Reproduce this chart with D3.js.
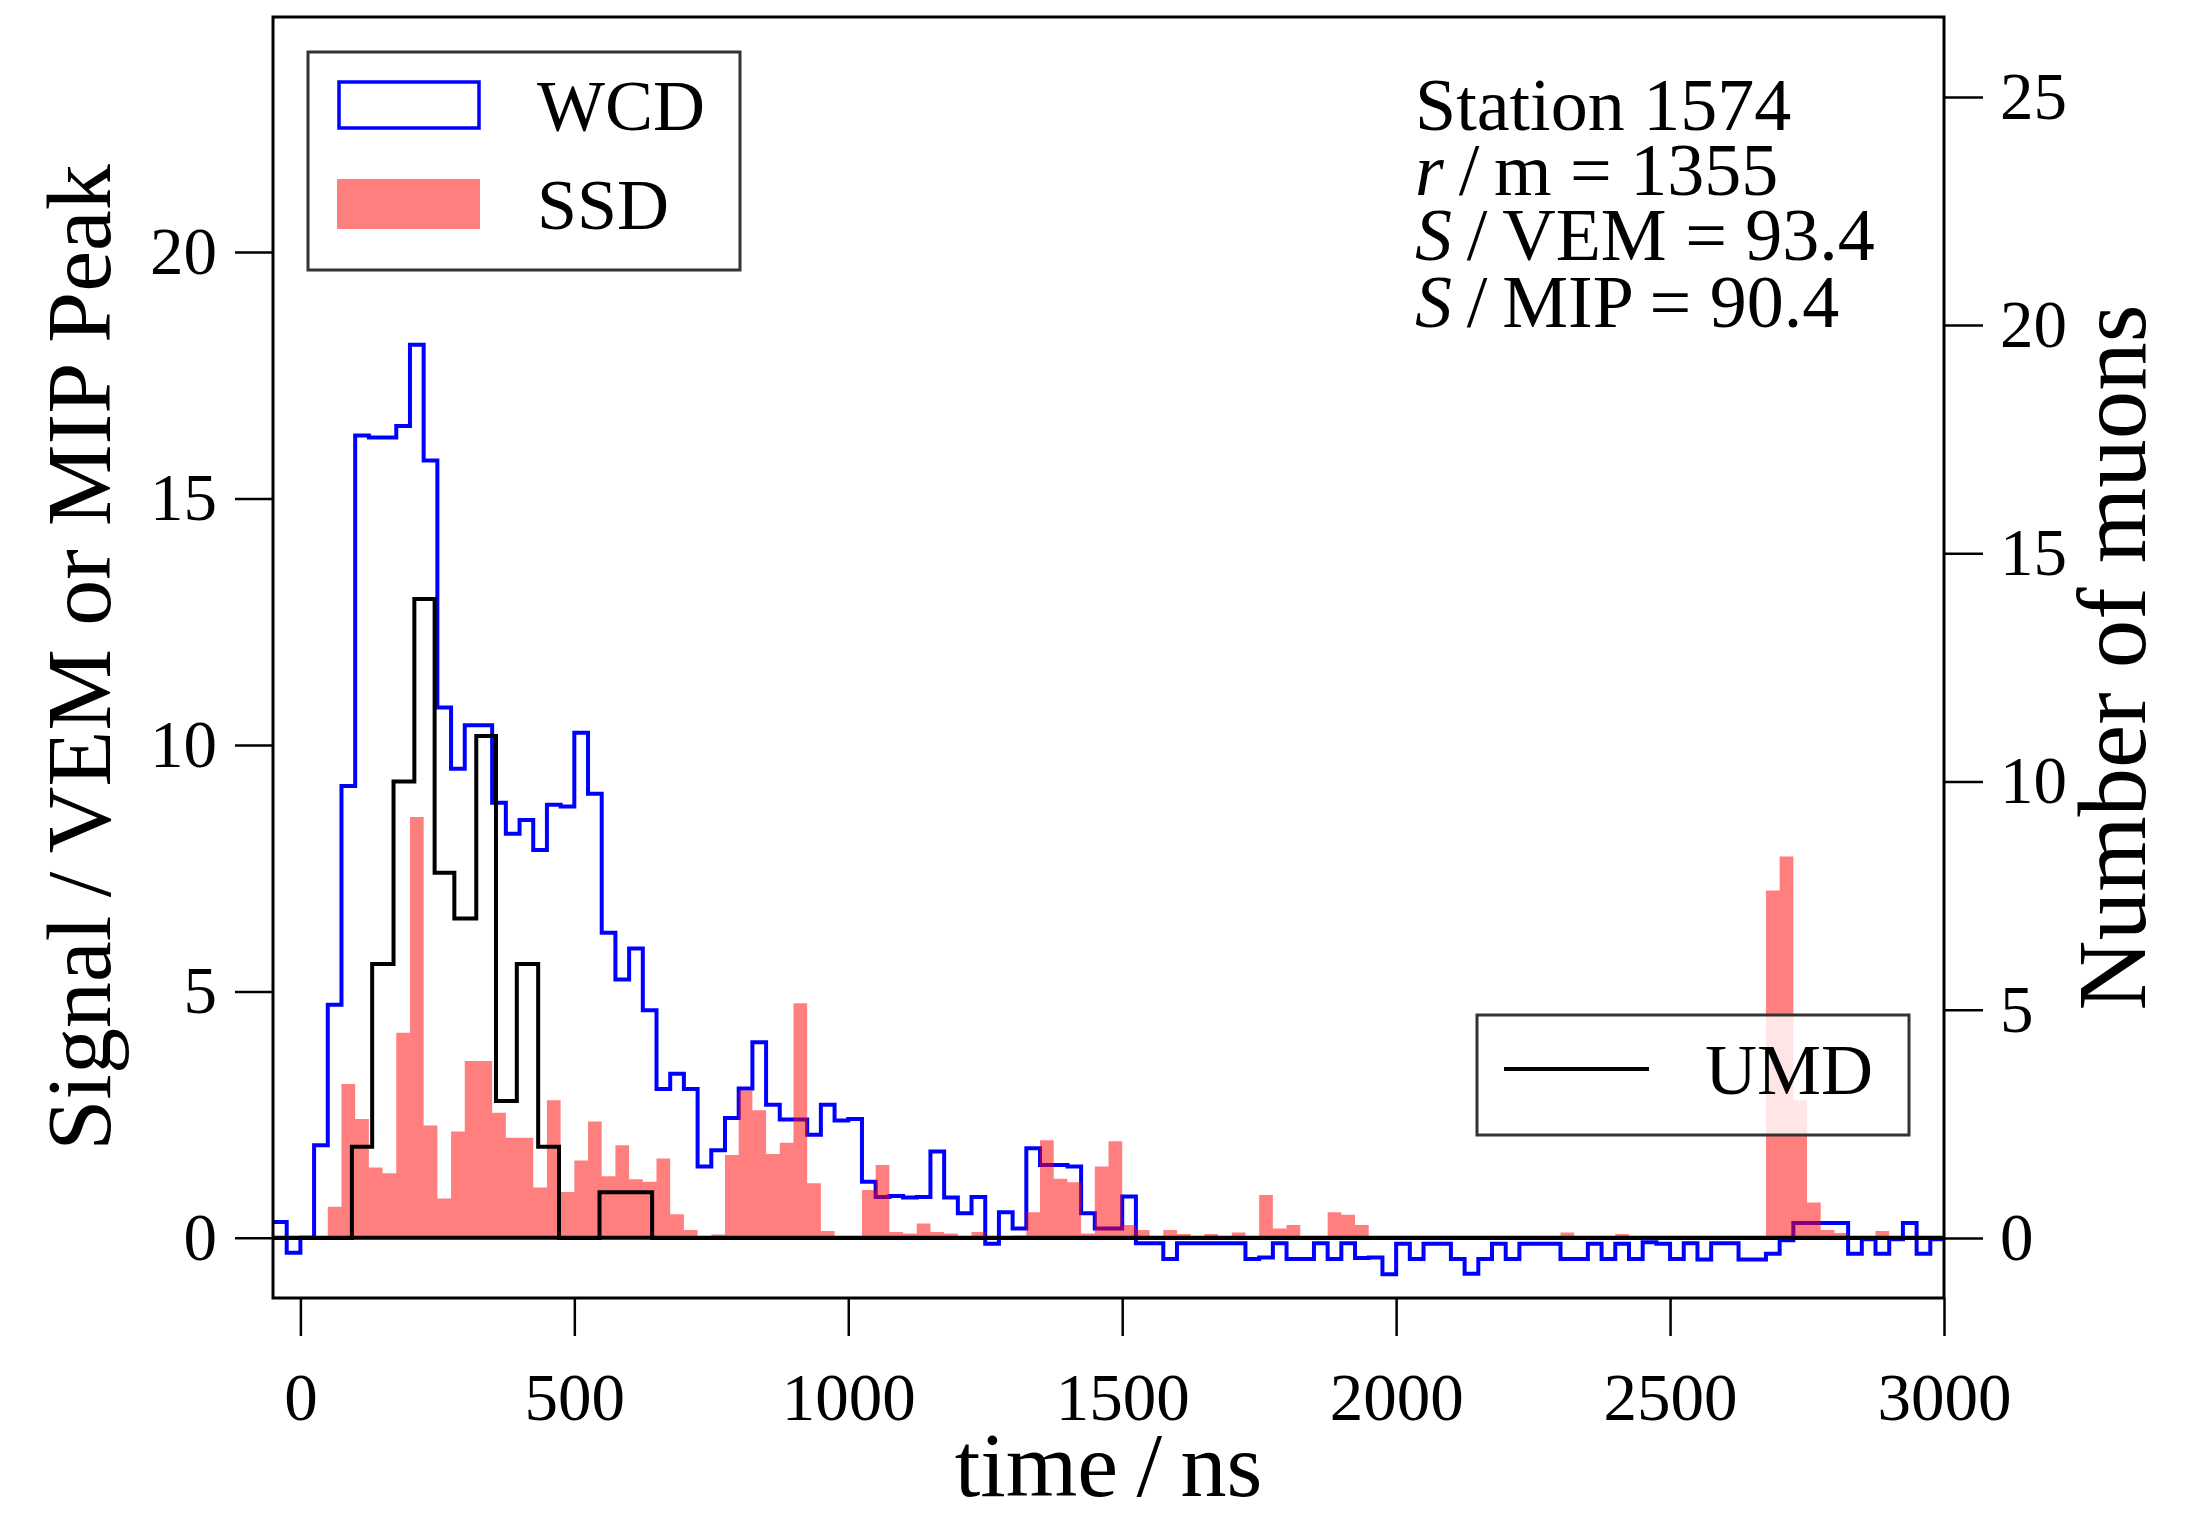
<!DOCTYPE html>
<html>
<head>
<meta charset="utf-8">
<script src="https://cdn.jsdelivr.net/npm/d3@7"></script>
<style>
    body { margin: 0; background: #fff; }
    svg { display: block; }
    text { font-family: "Liberation Serif", "DejaVu Serif", serif; fill: #000; }
</style>
</head>
<body>
<div id="chart"><svg></svg></div>
<script>
// Histogram bins: 25 ns wide, first bin starts at -50 ns
const binStart = -50;
const binWidth = 25;

// WCD signal (VEM) per bin
const wcdValues = [
    0.32, -0.30, 0.00, 1.88, 4.73, 9.17, 16.28, 16.24, 16.24, 16.47,
    18.12, 15.77, 10.76, 9.52, 10.40, 10.40, 8.83, 8.20, 8.48, 7.87,
    8.79, 8.75, 10.25, 9.01, 6.19, 5.24, 5.87, 4.62, 3.02, 3.33,
    3.02, 1.45, 1.78, 2.43, 3.03, 3.97, 2.70, 2.40, 2.40, 2.09,
    2.70, 2.38, 2.41, 1.14, 0.83, 0.85, 0.82, 0.83, 1.75, 0.82,
    0.50, 0.83, -0.12, 0.52, 0.19, 1.82, 1.48, 1.48, 1.45, 0.50,
    0.19, 0.19, 0.84, -0.11, -0.11, -0.43, -0.11, -0.11, -0.11, -0.11,
    -0.11, -0.43, -0.40, -0.11, -0.43, -0.43, -0.11, -0.43, -0.11, -0.41,
    -0.40, -0.74, -0.12, -0.43, -0.12, -0.12, -0.43, -0.73, -0.43, -0.12,
    -0.43, -0.12, -0.12, -0.12, -0.43, -0.43, -0.12, -0.43, -0.12, -0.43,
    -0.09, -0.12, -0.43, -0.11, -0.44, -0.11, -0.11, -0.44, -0.44, -0.32,
    -0.05, 0.30, 0.30, 0.30, 0.30, -0.32, -0.03, -0.32, -0.03, 0.30,
    -0.32, -0.03
];

// SSD signal (MIP) per bin
const ssdValues = [
    0, 0, 0, 0, 0.63, 3.12, 2.41, 1.43, 1.31, 4.16,
    8.54, 2.28, 0.80, 2.16, 3.59, 3.59, 2.54, 2.03, 2.03, 1.02,
    2.79, 0.93, 1.57, 2.36, 1.25, 1.88, 1.19, 1.14, 1.61, 0.48,
    0.16, 0, 0.07, 1.68, 2.99, 2.59, 1.70, 1.93, 4.76, 1.11,
    0.14, 0, 0, 0.97, 1.48, 0.12, 0.09, 0.29, 0.12, 0.09,
    0, 0.12, 0, 0, 0.05, 0.52, 1.98, 1.20, 1.13, 0.09,
    1.45, 1.96, 0.26, 0.16, 0, 0.16, 0.08, 0, 0.08, 0,
    0.11, 0, 0.87, 0.19, 0.26, 0, 0, 0.52, 0.47, 0.26,
    0, 0, 0, 0, 0, 0, 0, 0, 0, 0,
    0, 0, 0, 0, 0.11, 0, 0, 0, 0.08, 0,
    0, 0, 0, 0, 0, 0, 0, 0, 0, 7.05,
    7.74, 2.79, 0.72, 0.16, 0.10, 0, 0.03, 0.14, 0, 0,
    0.03, 0
];

// UMD muon counts, with their own bin edges (ns)
const umdEdges = [-50, 94, 131, 170, 208, 245, 281, 321, 357, 395, 434, 472, 546, 642, 3000];
const umdCounts = [0, 2, 6, 10, 14, 8, 7, 11, 3, 6, 2, 0, 1, 0];

// Axis ticks
const xTicks = [0, 500, 1000, 1500, 2000, 2500, 3000];
const leftTicks = [0, 5, 10, 15, 20];
const rightTicks = [0, 5, 10, 15, 20, 25];

// Station info lines: italic symbol + rest
const infoLines = [
    { sym: "", rest: "Station 1574" },
    { sym: "r", rest: "\u2009/\u2009m = 1355" },
    { sym: "S", rest: "\u2009/\u2009VEM = 93.4" },
    { sym: "S", rest: "\u2009/\u2009MIP = 90.4" },
];

// Plot frame
const W = 2202, H = 1516;
const plot = { left: 273, right: 1944, top: 17, bottom: 1298 };

const svg = d3.select("#chart svg")
    .attr("width", W)
    .attr("height", H);

const x = d3.scaleLinear().domain([-50, 3000]).range([plot.left, plot.right]);
const yL = d3.scaleLinear().domain([-1.22, 24.77]).range([plot.bottom, plot.top]);
const yR = d3.scaleLinear().domain([-1.315, 26.75]).range([plot.bottom, plot.top]);

svg.append("defs").append("clipPath")
    .attr("id", "plot-clip")
    .append("rect")
    .attr("x", plot.left)
    .attr("y", plot.top)
    .attr("width", plot.right - plot.left)
    .attr("height", plot.bottom - plot.top);

const data = svg.append("g").attr("clip-path", "url(#plot-clip)");

// step points: left edge of each bin + closing point at last right edge
function stepPoints(values) {
    const pts = values.map((v, i) => [binStart + i * binWidth, v]);
    pts.push([binStart + values.length * binWidth, values[values.length - 1]]);
    return pts;
}

// WCD outline
data.append("path")
    .attr("d", d3.line()
        .x(d => x(d[0]))
        .y(d => yL(d[1]))
        .curve(d3.curveStepAfter)(stepPoints(wcdValues)))
    .attr("fill", "none")
    .attr("stroke", "#0000ff")
    .attr("stroke-width", 4);

// SSD filled histogram
data.append("path")
    .attr("d", d3.area()
        .x(d => x(d[0]))
        .y0(yL(0))
        .y1(d => yL(d[1]))
        .curve(d3.curveStepAfter)(stepPoints(ssdValues)))
    .attr("fill", "red")
    .attr("fill-opacity", 0.5);

// zero line
data.append("line")
    .attr("x1", plot.left).attr("x2", plot.right)
    .attr("y1", yL(0)).attr("y2", yL(0))
    .attr("stroke", "#000")
    .attr("stroke-width", 4);

// UMD step line on right axis
const umdPts = umdCounts.map((c, i) => [umdEdges[i], c]);
umdPts.push([umdEdges[umdEdges.length - 1], umdCounts[umdCounts.length - 1]]);
data.append("path")
    .attr("d", d3.line()
        .x(d => x(d[0]))
        .y(d => yR(d[1]))
        .curve(d3.curveStepAfter)(umdPts))
    .attr("fill", "none")
    .attr("stroke", "#000")
    .attr("stroke-width", 4);

// Axes
function styleAxis(g, size) {
    g.select(".domain").remove();
    g.attr("font-family", null).attr("font-size", null);
    g.selectAll(".tick line").attr("stroke", "#000").attr("stroke-width", 2.5);
    g.selectAll(".tick text").style("font-size", size + "px").attr("fill", "#000");
}

svg.append("g")
    .attr("transform", `translate(0,${plot.bottom})`)
    .call(d3.axisBottom(x).tickValues(xTicks).tickFormat(d3.format("d")).tickSize(38).tickPadding(36))
    .call(g => styleAxis(g, 67));

svg.append("g")
    .attr("transform", `translate(${plot.left},0)`)
    .call(d3.axisLeft(yL).tickValues(leftTicks).tickFormat(d3.format("d")).tickSize(38).tickPadding(18))
    .call(g => styleAxis(g, 67));

svg.append("g")
    .attr("transform", `translate(${plot.right},0)`)
    .call(d3.axisRight(yR).tickValues(rightTicks).tickFormat(d3.format("d")).tickSize(39).tickPadding(17))
    .call(g => styleAxis(g, 67));

// Frame
svg.append("rect")
    .attr("x", plot.left).attr("y", plot.top)
    .attr("width", plot.right - plot.left)
    .attr("height", plot.bottom - plot.top)
    .attr("fill", "none")
    .attr("stroke", "#000")
    .attr("stroke-width", 3);

// Axis titles
const midY = (plot.top + plot.bottom) / 2;
svg.append("text")
    .attr("transform", `translate(110,${midY}) rotate(-90)`)
    .attr("text-anchor", "middle")
    .style("font-size", "92px")
    .text("Signal\u2009/\u2009VEM or MIP Peak");

svg.append("text")
    .attr("transform", `translate(2145,${midY}) rotate(-90)`)
    .attr("text-anchor", "middle")
    .style("font-size", "97px")
    .text("Number of muons");

svg.append("text")
    .attr("x", (plot.left + plot.right) / 2)
    .attr("y", 1496)
    .attr("text-anchor", "middle")
    .style("font-size", "92px")
    .text("time\u2009/\u2009ns");

// Legend WCD / SSD
const leg1 = svg.append("g");
leg1.append("rect")
    .attr("x", 308).attr("y", 52).attr("width", 432).attr("height", 218)
    .attr("fill", "#fff").attr("fill-opacity", 0.8)
    .attr("stroke", "#333").attr("stroke-width", 3);
leg1.append("rect")
    .attr("x", 339).attr("y", 82).attr("width", 140).attr("height", 46)
    .attr("fill", "none").attr("stroke", "#0000ff").attr("stroke-width", 3.5);
leg1.append("rect")
    .attr("x", 337).attr("y", 179).attr("width", 143).attr("height", 50)
    .attr("fill", "red").attr("fill-opacity", 0.5);
leg1.append("text").attr("x", 537).attr("y", 130).style("font-size", "72px").text("WCD");
leg1.append("text").attr("x", 537).attr("y", 229).style("font-size", "72px").text("SSD");

// Legend UMD
const leg2 = svg.append("g");
leg2.append("rect")
    .attr("x", 1477).attr("y", 1015).attr("width", 432).attr("height", 120)
    .attr("fill", "#fff").attr("fill-opacity", 0.8)
    .attr("stroke", "#333").attr("stroke-width", 3);
leg2.append("line")
    .attr("x1", 1504).attr("x2", 1649).attr("y1", 1069).attr("y2", 1069)
    .attr("stroke", "#000").attr("stroke-width", 4);
leg2.append("text").attr("x", 1705).attr("y", 1094).style("font-size", "72px").text("UMD");

// Station info
const baselines = [130, 195, 260, 327];
infoLines.forEach((d, i) => {
    const t = svg.append("text")
        .attr("x", 1415)
        .attr("y", baselines[i])
        .style("font-size", "74px");
    if (d.sym) t.append("tspan").style("font-style", "italic").text(d.sym);
    t.append("tspan").text(d.rest);
});
</script>
</body>
</html>
